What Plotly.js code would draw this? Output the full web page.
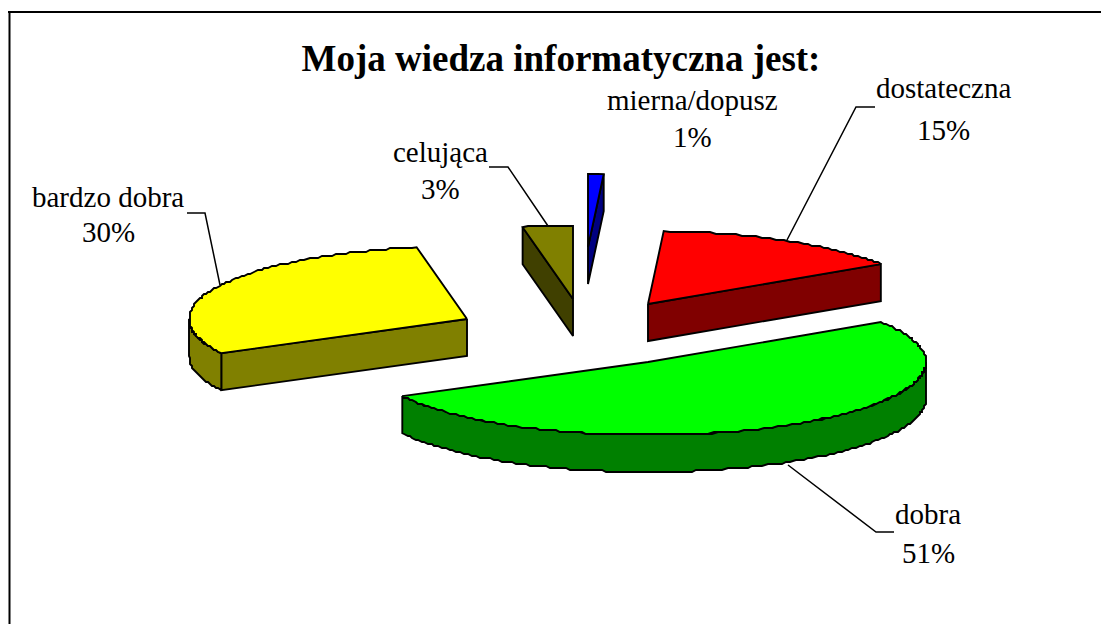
<!DOCTYPE html>
<html><head><meta charset="utf-8">
<script src="https://cdn.plot.ly/plotly-3.0.1.min.js"></script>
<style>html,body{margin:0;padding:0;background:#fff;overflow:hidden}#c{width:1101px;height:624px}</style>
</head><body><div id="c"></div>
<script>
// data
const categories = ['mierna/dopusz','dostateczna','dobra','bardzo dobra','celująca'];
const values = [0.9,14.9,51.45,29.85,2.9];
const topColors = ['#0000ff','#ff0000','#00ff00','#ffff00','#808000'];
const sideColors = ['#000080','#800000','#008000','#808000','#404000'];
// pie geometry (chart units = px of the canvas axis)
const pieCx = 583, pieCy = 333, rx = 278, ry = 73, depth = 37;
const pullX = [5,65,65,-116,-10];
const pullY = [-86,-29,29,-14,-34];
const drawOrder = [0,4,3,1,2];
// label placement
const labelX = [692,943,928,108,440];
const labelY = [100,88,514,197,152];
const pctY = [137,130,553,232,189];
const leaderX = [[],[875,856,787],[788,876,894],[187,205,220],[489,508,548]];
const leaderY = [[],[107,107,240],[465,532,532],[213,213,285],[167,167,226]];

const total = values.reduce((a,b)=>a+b,0);
const rad = d => d*Math.PI/180;
const snap = v => Math.round(v/2)*2;
const traces = [];
function poly(xs,ys,fill){
  traces.push({type:'scatter',mode:'lines',x:[...xs,xs[0]],y:[...ys,ys[0]],fill:'toself',fillcolor:fill,
    line:{color:'#000',width:1.9,simplify:false},hoverinfo:'skip',showlegend:false});
}
leaderX.forEach((lx,i)=>{ if(lx.length) traces.push({type:'scatter',mode:'lines',x:lx,y:leaderY[i],
  line:{color:'#000',width:1.5},hoverinfo:'skip',showlegend:false}); });

let cum = 0;
const spans = values.map(v=>{const s=[cum,cum+v/total*360];cum=s[1];return s;});
function arc(cx,cy,t0,t1){
  const n = Math.max(2,Math.ceil((t1-t0)/1.1)), xs=[], ys=[];
  for(let i=0;i<=n;i++){
    const t=rad(t0+(t1-t0)*i/n), edge=(i===0||i===n);
    const x=cx+rx*Math.sin(t), y=cy-ry*Math.cos(t);
    xs.push(edge?x:snap(x)); ys.push(edge?y:snap(y));
  }
  return [xs,ys];
}
drawOrder.forEach(i=>{
  const [t0,t1]=spans[i], cx=pieCx+pullX[i], cy=pieCy+pullY[i];
  const px=t=>cx+rx*Math.sin(rad(t)), py=t=>cy-ry*Math.cos(rad(t));
  const wall=t=>poly([cx,px(t),px(t),cx],[cy,py(t),py(t)+depth,cy+depth],sideColors[i]);
  if(Math.sin(rad(t0))<-1e-6) wall(t0);
  if(Math.sin(rad(t1))>1e-6) wall(t1);
  const r0=Math.max(t0,90), r1=Math.min(t1,270);
  if(r1>r0){
    const [ax,ay]=arc(cx,cy,r0,r1);
    const [bx,by]=arc(cx,cy+depth,r0,r1);
    poly([...ax,...bx.reverse()],[...ay,...by.reverse()],sideColors[i]);
  }
  const [ax,ay]=arc(cx,cy,t0,t1);
  poly([cx,...ax],[cy,...ay],topColors[i]);
});
const font={family:'"Liberation Serif","Times New Roman",serif',size:29,color:'#000'};
const annotations=[];
categories.forEach((c,i)=>{
  annotations.push({x:labelX[i],y:labelY[i],xref:'x',yref:'y',text:c,showarrow:false,font,xanchor:'center',yanchor:'middle'});
  annotations.push({x:labelX[i],y:pctY[i],xref:'x',yref:'y',text:Math.round(values[i]/total*100)+'%',showarrow:false,font,xanchor:'center',yanchor:'middle'});
});
const layout={
  width:1101,height:624,margin:{l:0,r:0,t:0,b:0},paper_bgcolor:'#fff',plot_bgcolor:'#fff',showlegend:false,
  title:{text:'<b>Moja wiedza informatyczna jest:</b>',x:561/1101,xanchor:'center',y:1-58/624,yanchor:'middle',
    font:{family:'"Liberation Serif","Times New Roman",serif',size:37,color:'#000'}},
  xaxis:{range:[0,1101],visible:false,fixedrange:true},
  yaxis:{range:[624,0],visible:false,fixedrange:true},
  annotations,
  shapes:[
    {type:'line',xref:'x',yref:'y',x0:8,x1:1101,y0:12,y1:12,line:{color:'#000',width:2}},
    {type:'line',xref:'x',yref:'y',x0:9.5,x1:9.5,y0:12,y1:624,line:{color:'#000',width:2}}
  ]
};
Plotly.newPlot('c',traces,layout,{displayModeBar:false,staticPlot:true});
</script></body></html>
